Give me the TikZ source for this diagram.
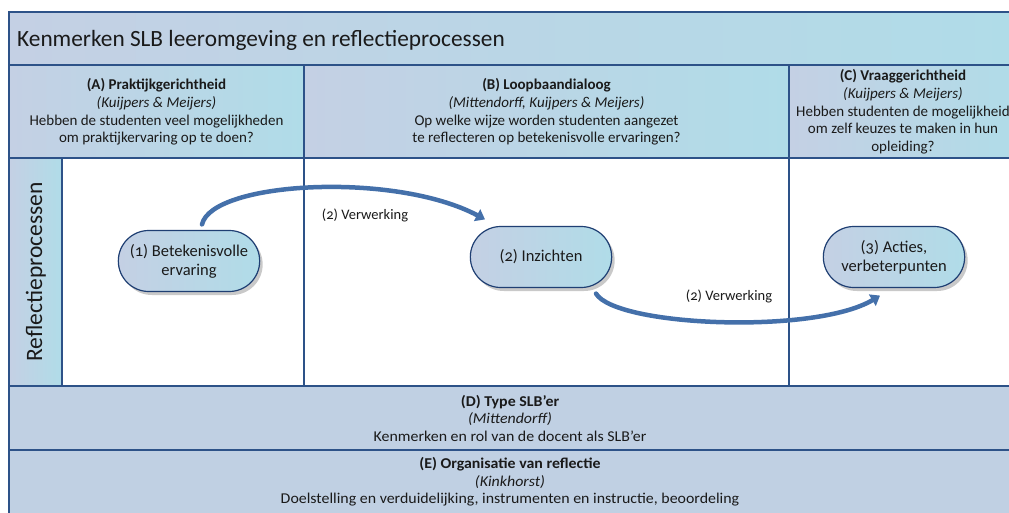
\documentclass[tikz,border=0pt]{standalone}
\usepackage{fontspec}
\setmainfont{Carlito}
\newfontfamily\osf{Carlito}[Numbers=OldStyle]
\newfontfamily\wide{Carlito}[FakeStretch=1.06]
\usetikzlibrary{shapes.misc,shadows,arrows.meta}
\definecolor{cA}{HTML}{C4D0E4}
\definecolor{cB}{HTML}{B0DCE8}
\definecolor{bord}{HTML}{2D5288}
\definecolor{nbord}{HTML}{1F3F73}
\definecolor{arr}{HTML}{4470AA}
\definecolor{txt}{HTML}{1A1A1A}
\definecolor{band}{HTML}{C0D0E3}
\begin{document}
\begin{tikzpicture}[x=1pt,y=1pt,
  cell/.style={left color=cA,right color=cB,draw=bord,line width=1.6pt},
  bandcell/.style={fill=band,draw=bord,line width=1.6pt},
  white cell/.style={fill=white,draw=bord,line width=1.6pt},
  hdr/.style={align=center,text=txt,font=\fontsize{15}{17.7}\selectfont,inner sep=0pt},
  bnd/.style={align=center,text=txt,font=\wide\fontsize{15}{17.5}\selectfont,inner sep=0pt},
  proc/.style={rounded rectangle,minimum width=148pt,minimum height=61pt,
    left color=cA,right color=cB,draw=nbord,line width=1.2pt,
    align=center,text=txt,font=\osf\fontsize{16.5}{19}\selectfont,
    drop shadow={shadow xshift=3pt,shadow yshift=-3.5pt,fill=black!35,opacity=0.6}},
  flow/.style={draw=arr,line width=4.5pt,line cap=round,
    -{Triangle[length=9pt,width=13pt]}},
  lbl/.style={text=txt,font=\osf\fontsize{14.5}{16}\selectfont,inner sep=0pt}]
\clip (0,0) rectangle (1009,512);
\fill[white] (0,0) rectangle (1009,512);
% title
\path[cell] (9,447) rectangle (1017,500);
\node[anchor=base west,inner sep=0pt,text=txt,font=\fontsize{23.3}{26}\selectfont] (title) at (17,465) {Kenmerken SLB leeromgeving en reflectieprocessen};
% headers
\path[cell] (9,354) rectangle (304,447);
\path[cell] (304,354) rectangle (789,447);
\path[cell] (789,354) rectangle (1017,447);
\node[hdr] (hA) at (156.5,400) {\textbf{(A) Praktijkgerichtheid}\\\textit{(Kuijpers \& Meijers)}\\Hebben de studenten veel mogelijkheden\\om praktijkervaring op te doen?};
\node[hdr] (hB) at (546.5,400) {\textbf{(B) Loopbaandialoog}\\\textit{(Mittendorff, Kuijpers \& Meijers)}\\Op welke wijze worden studenten aangezet\\te reflecteren op betekenisvolle ervaringen?};
\node[hdr] (hC) at (903,400) {\textbf{(C) Vraaggerichtheid}\\\textit{(Kuijpers \& Meijers)}\\Hebben studenten de mogelijkheid\\om zelf keuzes te maken in hun\\opleiding?};
% main row
\path[cell] (9,126) rectangle (62,354);
\path[white cell] (62,126) rectangle (304,354);
\path[white cell] (304,126) rectangle (789,354);
\path[white cell] (789,126) rectangle (1017,354);
\node[rotate=90,inner sep=0pt,text=txt,font=\fontsize{23.5}{25}\selectfont] (side) at (36,240) {Reflectieprocessen};
% bands
\path[bandcell] (9,62) rectangle (1017,126);
\path[bandcell] (9,-5) rectangle (1017,62);
\node[bnd] (bD) at (510,94) {\textbf{(D) Type SLB’er}\\\textit{(Mittendorff)}\\Kenmerken en rol van de docent als SLB’er};
\node[bnd] (bE) at (510,30) {\textbf{(E) Organisatie van reflectie}\\\textit{(Kinkhorst)}\\Doelstelling en verduidelijking, instrumenten en instructie, beoordeling};
% process nodes
\node[proc] (n1) at (189,251) {(1) Betekenisvolle\\ervaring};
\node[proc] (n2) at (541,255) {(2) Inzichten};
\node[proc] (n3) at (894,255) {(3) Acties,\\verbeterpunten};
% arrows
\draw[flow] ([xshift=13pt,yshift=5.5pt]n1.north) .. controls +(10,43) and +(-90,48) .. ([xshift=-56pt,yshift=6.5pt]n2.north);
\draw[flow] ([xshift=55pt,yshift=-5.5pt]n2.south) .. controls +(20,-33) and +(-65,-39) .. ([xshift=-14pt,yshift=-7.5pt]n3.south);
\node[lbl] (v1) at (365,297) {(2) Verwerking};
\node[lbl] (v2) at (729,216) {(2) Verwerking};
\end{tikzpicture}
\end{document}
